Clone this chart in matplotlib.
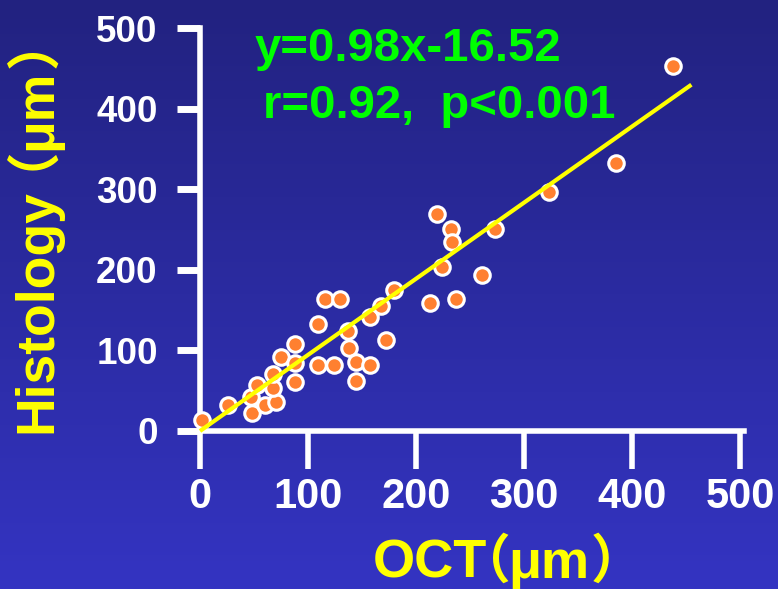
import numpy as np
import matplotlib
matplotlib.use("Agg")
import matplotlib.pyplot as plt
from matplotlib.textpath import TextPath
from matplotlib.font_manager import FontProperties

FAMILIES = ['Liberation Sans', 'Noto Sans CJK SC', 'DejaVu Sans']
plt.rcParams['font.family'] = FAMILIES
plt.rcParams['font.weight'] = 'bold'

# ---- data ----
oct_um = [2, 26, 48, 47, 53, 60, 70, 68, 68, 75, 88, 88, 88, 109, 116, 130, 109, 124,
          137, 138, 144, 144, 157, 157, 168, 172, 180, 213, 219, 232, 233, 224, 237,
          261, 273, 323, 385, 438]
histology_um = [14, 32, 22, 42, 57, 32, 36, 54, 71, 92, 108, 84, 61, 133, 164, 164, 82, 82,
                124, 103, 86, 62, 82, 142, 155, 113, 175, 159, 270, 251, 235, 204, 164,
                194, 251, 297, 333, 453]
fit_x = [0, 455]
fit_y = [0, 430]
ticks = [0, 100, 200, 300, 400, 500]
tick_labels = ['0', '100', '200', '300', '400', '500']
eq_line1 = 'y=0.98x-16.52'
eq_line2 = 'r=0.92,  p<0.001'
xlabel_parts = ['OCT', '（', 'μm', '）']
ylabel_parts = ['Histology', '（', 'μm', '）']

W, H = 778, 589
DPI = 100
fig = plt.figure(figsize=(W / DPI, H / DPI), dpi=DPI)

# background gradient
bg = fig.add_axes([0, 0, 1, 1], zorder=-10)
top = np.array([0x22, 0x22, 0x80]) / 255
bot = np.array([0x34, 0x34, 0xC2]) / 255
t = np.linspace(0, 1, 256)[:, None]
grad = top[None, :] * (1 - t) + bot[None, :] * t
bg.imshow(grad[:, None, :], aspect='auto', extent=[0, 1, 0, 1])
bg.axis('off')

def px(x, y):
    return x / W, 1 - y / H

x0, y0 = 200, 431
x1, y1 = 740, 28.3
ax = fig.add_axes([x0 / W, 1 - y0 / H, (x1 - x0) / W, (y0 - y1) / H])
ax.patch.set_alpha(0)
ax.set_xlim(0, 500)
ax.set_ylim(0, 500)

for s in ['top', 'right']:
    ax.spines[s].set_visible(False)
for s in ['left', 'bottom']:
    ax.spines[s].set_color('white')
    ax.spines[s].set_linewidth(4)
ax.spines['bottom'].set_bounds(0, 504)
ax.spines['left'].set_bounds(0, 500)

ax.set_xticks(ticks)
ax.set_xticklabels(tick_labels)
ax.set_yticks(ticks)
ax.set_yticklabels(tick_labels)
ax.tick_params(axis='y', direction='out', length=16.5, width=5, color='white',
               pad=14, labelsize=26.5, labelcolor='white')
ax.tick_params(axis='x', direction='out', length=27, width=4, color='white',
               pad=6, labelsize=30, labelcolor='white')
for lab in ax.get_xticklabels() + ax.get_yticklabels():
    lab.set_fontweight('bold')

ax.scatter(oct_um, histology_um, s=125, c='#FF8030', edgecolors='white',
           linewidths=2.2, zorder=3, clip_on=False)
ax.plot(fit_x, fit_y, color='#FFFF00', lw=3, zorder=4, solid_capstyle='butt', clip_on=False)

green = '#00FF00'
yellow = '#FFFF00'
fig.text(*px(255, 61), eq_line1, color=green, fontsize=34, fontweight='bold',
         ha='left', va='baseline')
fig.text(*px(263, 118), eq_line2, color=green, fontsize=34, fontweight='bold',
         ha='left', va='baseline')


def ink_left_px(s, fs):
    """Horizontal offset (pixels) from text origin to the first inked pixel."""
    fam = 'Noto Sans CJK SC' if s in ('（', '）') else 'Liberation Sans'
    tp = TextPath((0, 0), s, size=fs, prop=FontProperties(family=fam, weight='bold'))
    return tp.get_extents().x0 * DPI / 72


# x label pieces placed by their ink-left positions
x_lefts = [375, 493, 512, 593]
x_sizes = [39, 38, 39, 38]
for part, xl, fs in zip(xlabel_parts, x_lefts, x_sizes):
    off = ink_left_px(part, fs)
    fig.text(*px(xl - off, 578), part, color=yellow, fontsize=fs, fontweight='bold',
             ha='left', va='baseline')

# y label pieces (rotated): the Agg backend applies the ink offset horizontally
# for rotated text, so compensate it on the x position.
y_starts = [433, 170, 150, 68]
y_size = 38.5
for part, ys in zip(ylabel_parts, y_starts):
    off = ink_left_px(part, y_size)
    fig.text(*px(55 - off, ys), part, color=yellow, fontsize=y_size, fontweight='bold',
             ha='left', va='baseline', rotation=90, rotation_mode='anchor')

fig.savefig('out.png', dpi=DPI)
